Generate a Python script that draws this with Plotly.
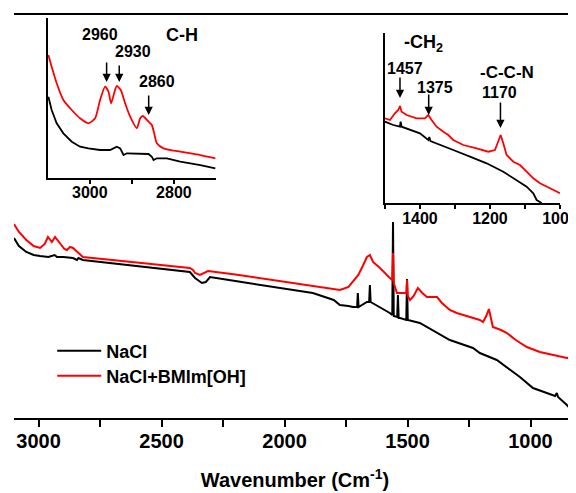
import plotly.graph_objects as go

# ---------------- data (arbitrary intensity units) ----------------
# Main spectrum: NaCl
nacl_wn = [3100, 3080, 3050, 3020, 2994, 2960, 2935, 2925, 2900, 2860, 2844, 2838, 2820,
           2600, 2500, 2385, 2364, 2344, 2336, 2320, 2303, 2200, 2000, 1885, 1800, 1775,
           1740, 1722, 1705, 1702, 1699, 1680, 1665, 1656, 1653, 1650, 1612, 1590, 1572,
           1562, 1559, 1556, 1542, 1539, 1536, 1530, 1505, 1502, 1499, 1450, 1380, 1328,
           1234, 1206, 1137, 1043, 990, 900, 893, 888, 852, 815]
nacl_int = [180, 172, 166, 163, 162, 161, 163, 161, 161, 160, 158, 160, 158,
            152, 149, 146, 140, 137, 135, 136, 141, 137, 129, 125, 118, 113,
            112, 111, 111, 125, 111, 114, 116, 116, 133, 116, 111, 108, 105,
            103, 196, 102, 101, 123, 100, 100, 98, 139, 98, 95, 85, 78,
            70, 65, 58, 41, 30, 22, 25, 21, 13, 3]

# Main spectrum: NaCl+BMIm[OH]
bmim_wn = [3100, 3080, 3050, 3020, 2994, 2975, 2962, 2946, 2933, 2915, 2895, 2885, 2872,
           2860, 2844, 2820, 2700, 2600, 2500, 2385, 2372, 2364, 2344, 2320, 2311, 2200,
           2000, 1885, 1800, 1775, 1740, 1722, 1700, 1680, 1665, 1653, 1640, 1612, 1590,
           1572, 1562, 1559, 1556, 1543, 1510, 1505, 1502, 1499, 1490, 1475, 1458, 1440,
           1421, 1400, 1380, 1360, 1328, 1300, 1260, 1206, 1193, 1180, 1169, 1160, 1153,
           1120, 1096, 1060, 1015, 962, 900, 852, 815]
bmim_int = [194, 186, 178, 172, 170, 174, 181, 176, 181, 175, 169, 168, 171,
            170, 166, 161, 158, 155.5, 153, 150, 148, 145, 143, 146, 147, 143.5,
            136, 132, 129, 128, 131, 136, 143, 153, 161, 163, 156, 150, 144,
            140, 138, 165, 135, 125, 125, 125, 138, 122, 118, 122, 130, 125,
            121, 121, 121, 115, 108, 105, 102, 98, 96, 102, 109, 98, 91,
            88, 85, 78, 71, 66, 63, 60, 61]

# Inset 1: C-H region
ch_wn_red = [3098.5, 3090.6, 3078.7, 3062.8, 3042.9, 3023.1, 3003.3, 2987.4, 2975.5, 2963.6,
             2955.6, 2949.3, 2942.1, 2935.8, 2926.3, 2916, 2904, 2888.2, 2880.2, 2873.9,
             2860.4, 2852.5, 2846.9, 2840.6, 2824.7, 2785, 2737.2, 2701.5]
ch_int_red = [123, 111.3, 94.7, 78, 68, 59.7, 54.7, 59.7, 78, 91.3,
              86.3, 74.7, 84.7, 92, 88, 74.7, 61.3, 49.7, 59.7, 62,
              56.3, 53, 44.7, 34.7, 29.7, 26.3, 23, 19.7]
ch_wn_blk = [3098.5, 3090.6, 3078.7, 3062.8, 3042.9, 3023.1, 3003.3, 2975.5, 2951.7, 2935.8,
             2927.7, 2919.8, 2911.8, 2880.2, 2860.4, 2852.5, 2848.5, 2840.6, 2816.7, 2785,
             2737.2, 2701.5]
ch_int_blk = [81.3, 68, 54.7, 44.7, 36.3, 31.3, 29.7, 28, 28, 31.3,
              29.7, 23, 24.7, 24.7, 24, 21.3, 18, 19.7, 19.7, 16.3,
              13, 9.7]

# Inset 2: fingerprint region
fp_wn_red = [1500, 1485.7, 1471.4, 1461.9, 1457.1, 1452.4, 1438.1, 1409.5, 1385.7, 1376.2,
             1366.7, 1352.4, 1333.3, 1319, 1304.8, 1276.2, 1238.1, 1204.8, 1185.7, 1176.2,
             1169.5, 1161.9, 1152.4, 1133.3, 1114.3, 1095.2, 1076.2, 1057.1, 1028.6, 1000]
fp_int_red = [84.7, 83, 89.7, 93, 97, 91.3, 88, 84.7, 84.7, 88,
              83, 76.3, 71.3, 68, 63, 58, 54.7, 51.3, 53, 63,
              68, 59.7, 48, 41.3, 38, 31.3, 24.7, 19.7, 14.7, 9.7]
fp_wn_blk = [1500, 1476.2, 1457.1, 1455.2, 1452.4, 1428.6, 1400, 1376.2, 1373.3, 1370,
             1352.4, 1304.8, 1257.1, 1209.5, 1161.9, 1123.8, 1095.2, 1076.2, 1066.7, 1052.4]
fp_int_blk = [81.3, 78, 76.3, 81.3, 76.3, 73, 69.7, 63, 66, 62,
              59.7, 53, 46.3, 39.7, 31.3, 23, 16.3, 9.7, 3, 0]

main_ticks = [3000, 2500, 2000, 1500, 1000]
main_minor = [2750, 2250, 1750, 1250]
ch_ticks = [3000, 2800]
ch_minor = [2900]
fp_ticks = [1400, 1200, 1000]
fp_minor = [1500, 1300, 1100]

BLACK = "#000000"
RED = "#ff0000"
FONT = "Arial, Liberation Sans, sans-serif"

fig = go.Figure()

fig.add_trace(go.Scatter(x=nacl_wn, y=nacl_int, mode="lines", name="NaCl",
                         line=dict(color=BLACK, width=2), legend="legend"))
fig.add_trace(go.Scatter(x=bmim_wn, y=bmim_int, mode="lines", name="NaCl+BMIm[OH]",
                         line=dict(color=RED, width=2), legend="legend2"))

fig.add_trace(go.Scatter(x=ch_wn_blk, y=ch_int_blk, mode="lines", showlegend=False,
                         line=dict(color=BLACK, width=1.8), xaxis="x2", yaxis="y2"))
fig.add_trace(go.Scatter(x=ch_wn_red, y=ch_int_red, mode="lines", showlegend=False,
                         line=dict(color=RED, width=1.8, shape="spline", smoothing=0.6),
                         xaxis="x2", yaxis="y2"))
fig.add_trace(go.Scatter(x=fp_wn_blk, y=fp_int_blk, mode="lines", showlegend=False,
                         line=dict(color=BLACK, width=1.8), xaxis="x3", yaxis="y3"))
fig.add_trace(go.Scatter(x=fp_wn_red, y=fp_int_red, mode="lines", showlegend=False,
                         line=dict(color=RED, width=1.8), xaxis="x3", yaxis="y3"))

tickfont_main = dict(family=FONT, size=20, color=BLACK, weight="bold")
tickfont_in = dict(family=FONT, size=16, color=BLACK, weight="bold")
legfont = dict(family=FONT, size=18, color=BLACK, weight="bold")

fig.update_layout(
    width=568, height=485,
    margin=dict(l=6, r=0, t=7, b=75),
    paper_bgcolor="white", plot_bgcolor="white",
    font=dict(family=FONT, color=BLACK),
    xaxis=dict(range=[3100, 815], tickvals=main_ticks, ticks="outside", ticklen=7,
               tickwidth=2, tickcolor=BLACK, showline=True, linewidth=2, linecolor=BLACK,
               mirror=True, showgrid=False, zeroline=False, tickfont=tickfont_main,
               automargin=False, ticklabelstandoff=-3, ticklabeloverflow="allow",
               minor=dict(tickvals=main_minor, ticks="outside", ticklen=7, tickwidth=2,
                          tickcolor=BLACK),
               title=dict(text="Wavenumber (Cm<sup>-1</sup>)",
                          font=dict(family=FONT, size=20, color=BLACK, weight="bold"),
                          standoff=22)),
    yaxis=dict(range=[0, 403], visible=False, automargin=False),
    xaxis2=dict(domain=[0.060, 0.3594], anchor="y2", range=[3100, 2700], tickvals=ch_ticks,
                ticks="outside", ticklen=4, tickwidth=1.5, tickcolor=BLACK, showline=True,
                linewidth=1.8, linecolor=BLACK, showgrid=False, zeroline=False,
                tickfont=tickfont_in, automargin=False, ticklabelstandoff=-5,
                ticklabeloverflow="allow",
                minor=dict(tickvals=ch_minor, ticks="outside", ticklen=4, tickwidth=1.5,
                           tickcolor=BLACK)),
    yaxis2=dict(domain=[0.5955, 0.9926], anchor="x2", range=[0, 160], showline=True,
                linewidth=1.8, linecolor=BLACK, showticklabels=False, ticks="",
                showgrid=False, zeroline=False, automargin=False),
    xaxis3=dict(domain=[0.660, 0.9715], anchor="y3", range=[1500, 1000], tickvals=fp_ticks,
                ticks="outside", ticklen=4, tickwidth=1.5, tickcolor=BLACK, showline=True,
                linewidth=1.8, linecolor=BLACK, showgrid=False, zeroline=False,
                tickfont=tickfont_in, automargin=False, ticklabelstandoff=-4,
                ticklabeloverflow="allow",
                minor=dict(tickvals=fp_minor, ticks="outside", ticklen=4, tickwidth=1.5,
                           tickcolor=BLACK)),
    yaxis3=dict(domain=[0.5335, 0.9553], anchor="x3", range=[0, 170], showline=True,
                linewidth=1.8, linecolor=BLACK, showticklabels=False, ticks="",
                showgrid=False, zeroline=False, automargin=False),
    legend=dict(x=0.068, y=0.1663, xanchor="left", yanchor="middle",
                bgcolor="rgba(0,0,0,0)", font=legfont, itemwidth=44),
    legend2=dict(x=0.068, y=0.1042, xanchor="left", yanchor="middle",
                 bgcolor="rgba(0,0,0,0)", font=legfont, itemwidth=44),
)

ann_font = dict(family=FONT, size=16, color=BLACK, weight="bold")
big_font = dict(family=FONT, size=18, color=BLACK, weight="bold")

texts = [
    ("x2", "y2", 2975.5, 143, "2960", ann_font),
    ("x2", "y2", 2897, 126, "2930", ann_font),
    ("x2", "y2", 2840, 96, "2860", ann_font),
    ("x2", "y2", 2780, 143, "C-H", big_font),
    ("x3", "y3", 1391, 160, "-CH<sub>2</sub>", big_font),
    ("x3", "y3", 1443, 135, "1457", ann_font),
    ("x3", "y3", 1357, 116, "1375", ann_font),
    ("x3", "y3", 1151, 131, "-C-C-N", dict(ann_font, size=17)),
    ("x3", "y3", 1174, 111, "1170", ann_font),
]
for xr, yr, x, y, t, f in texts:
    fig.add_annotation(xref=xr, yref=yr, x=x, y=y, text=t, showarrow=False, font=f)

arrows = [
    ("x2", "y2", 2960, 96, -22),
    ("x2", "y2", 2930, 96, -19),
    ("x2", "y2", 2860, 63, -22),
    ("x3", "y3", 1457, 105, -23),
    ("x3", "y3", 1375, 88, -23),
    ("x3", "y3", 1170, 75, -28),
]
for xr, yr, x, y, ay in arrows:
    fig.add_annotation(xref=xr, yref=yr, x=x, y=y, text=" ", showarrow=True, ax=0, ay=ay,
                       arrowhead=2, arrowsize=1.1, arrowwidth=1.5, arrowcolor=BLACK,
                       font=dict(size=2))

fig.write_html("out.html")
